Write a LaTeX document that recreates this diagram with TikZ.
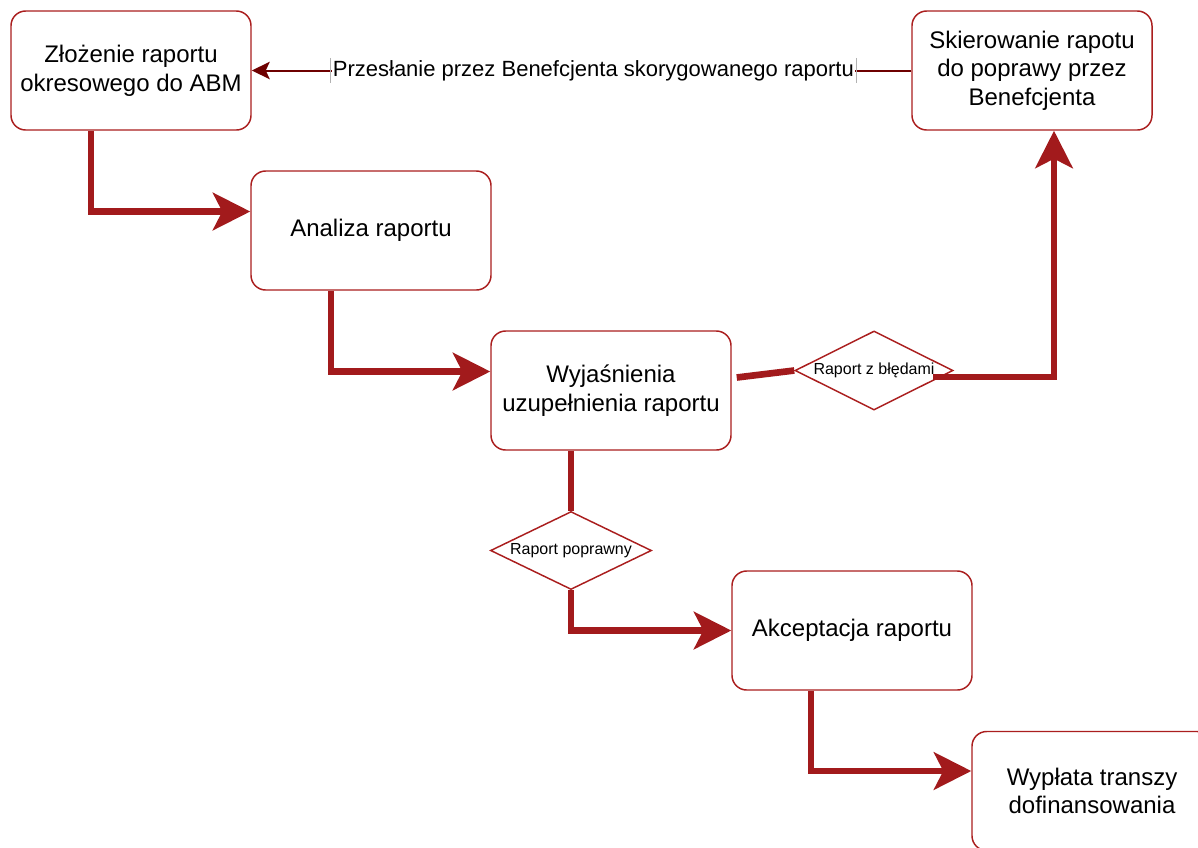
\documentclass[tikz,border=0pt]{standalone}
\usepackage{fontspec}
\setmainfont{Liberation Sans}
\usetikzlibrary{arrows.meta,shapes.geometric,calc}
\definecolor{boxred}{RGB}{170,30,30}
\definecolor{arrred}{RGB}{162,26,28}
\definecolor{thinred}{RGB}{110,0,0}
\begin{document}
\begin{tikzpicture}[x=0.75pt,y=-0.75pt,
 box/.style={draw=boxred, line width=1.1pt, rounded corners=11pt, fill=white, minimum width=180pt, minimum height=89.25pt, align=center, font=\fontsize{18}{21.5}\selectfont, inner sep=0pt},
 dia/.style={diamond, draw=boxred, line width=1.1pt, fill=white, shape aspect=2, inner sep=0pt, font=\fontsize{12}{14}\selectfont},
 flow/.style={draw=arrred, line width=5pt, -{Stealth[length=28pt,width=28pt,inset=7pt]}},
 thick line/.style={draw=arrred, line width=5pt},
 ]
\useasboundingbox (0,0) rectangle (1198,847);
\clip (0,0) rectangle (1198,847);
% boxes
\node[box] (zl) at (131,70.5) {Złożenie raportu\\okresowego do ABM};
\node[box] (sk) at (1032,70.5) {Skierowanie rapotu\\do poprawy przez\\Benefcjenta};
\node[box] (an) at (371,230.5) {Analiza raportu};
\node[box] (wy) at (611,390.5) {Wyjaśnienia\\uzupełnienia raportu};
\node[box] (ak) at (852,630.5) {Akceptacja raportu};
\node[box] (wp) at (1092,791) {Wypłata transzy\\dofinansowania};
% decisions
\node[dia, minimum width=118.5pt, minimum height=59.25pt] (bd) at (874,370.5) {Raport z błędami};
\node[dia, minimum width=120.75pt, minimum height=58.5pt] (bp) at (571,550.5) {Raport poprawny};
% connectors
\draw[flow] ($(zl.south)+(-40,0)$) |- ($(an.west)+(0,-19)$);
\draw[flow] ($(an.south)+(-40,0)$) |- ($(wy.west)+(0,-19)$);
\draw[thick line] ($(wy.east)+(5,-13)$) -- (bd.west);
\draw[flow] ($(bd.east)+(-21,6.5)$) -| ($(sk.south)+(22,0)$);
\draw[thick line] ($(wy.south)+(-40,0)$) -- (bp.north);
\draw[flow] (bp.south) |- (ak.west);
\draw[flow] ($(ak.south)+(-41,0)$) |- ($(wp.west)+(0,-20)$);
\draw[thinred, line width=1.5pt, -{Stealth[length=13.5pt,width=13pt,inset=3pt]}] (sk.west) -- node[pos=0.482, fill=white, text=black, inner sep=1pt, font=\fontsize{16.5}{18}\selectfont] (lbl) {Przesłanie przez Benefcjenta skorygowanego raportu} (zl.east);
\draw[black!30, line width=0.6pt] (lbl.north west) -- (lbl.south west);
\draw[black!30, line width=0.6pt] (lbl.north east) -- (lbl.south east);
\end{tikzpicture}
\end{document}
